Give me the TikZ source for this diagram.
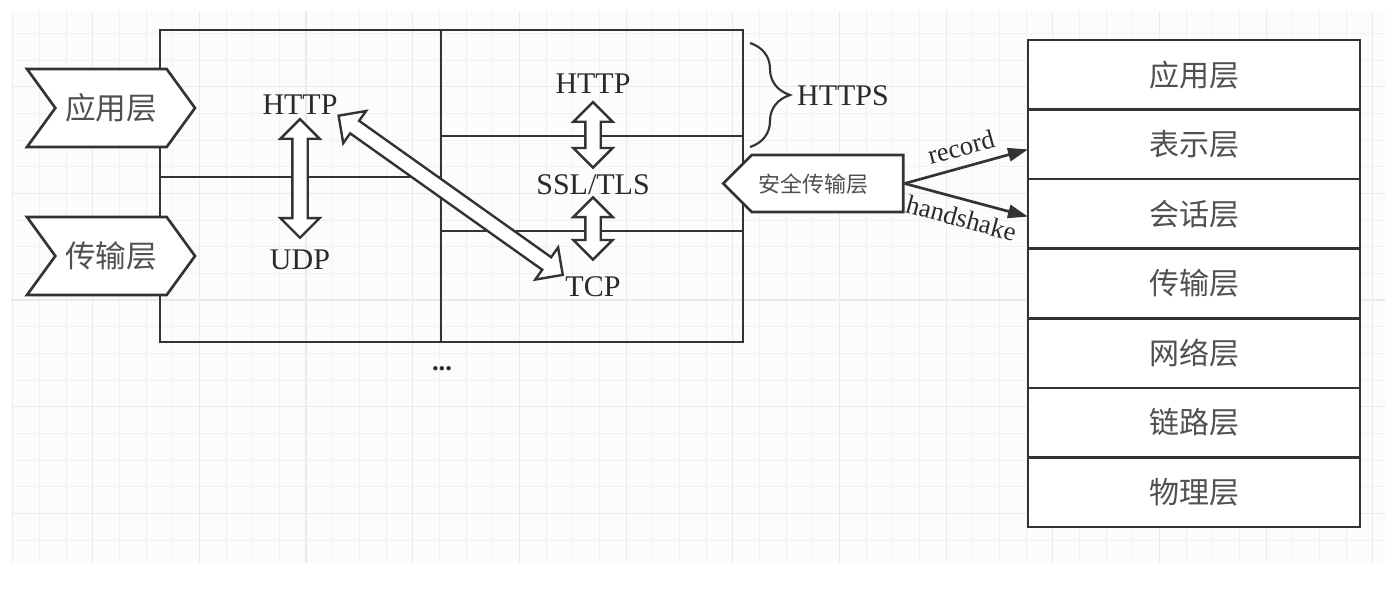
\documentclass[tikz,border=0pt]{standalone}
\usepackage{fontspec}
\setmainfont{Liberation Serif}
\newfontfamily\cjk{Noto Sans CJK SC}
\usetikzlibrary{shapes, shapes.arrows, shapes.symbols, arrows.meta, calc, positioning}
\usetikzlibrary{decorations.pathreplacing}
\definecolor{linegray}{HTML}{333333}
\definecolor{textgray}{HTML}{2A2A2A}
\definecolor{cjkgray}{HTML}{505050}
\definecolor{gridbg}{HTML}{FCFCFC}
\definecolor{gridminor}{HTML}{F1F1F1}
\definecolor{gridmajor}{HTML}{EAEAEA}
\newcommand{\pxu}{0.75pt}

\tikzset{
  cell/.style={rectangle, draw=linegray, line width=2pt, inner sep=0pt, outer sep=0pt},
  lbl/.style={inner sep=0pt, text=textgray, font=\fontsize{22.5}{26}\selectfont},
  cjklbl/.style={text=cjkgray, font=\cjk\fontsize{22.5}{24}\selectfont},
  layer/.style={cell, fill=white, minimum width=332*\pxu, minimum height=69.57*\pxu, cjklbl},
  chevron/.style={signal, draw=linegray, fill=white, line width=2pt, signal from=west, signal to=east,
    signal pointer angle=108, minimum width=168*\pxu, minimum height=78*\pxu, inner sep=0pt,
    text=cjkgray, font=\cjk\fontsize{23}{24}\selectfont},
  dblarrow/.style={double arrow, draw=linegray, fill=white, line width=1.8pt, inner xsep=0pt,
    inner ysep=4.875pt, double arrow head extend=9pt, double arrow tip angle=90},
  flow/.style={draw=linegray, line width=2pt, -{Triangle[length=15pt, width=10pt]}},
}

% hollow double arrow between two points, with gaps (in px) at both ends
\newcommand{\blockarrow}[4]{%
  \path let \p1=(#1), \p2=(#2),
    \n1={atan2(\y2-\y1,\x2-\x1)},
    \n2={veclen(\x2-\x1,\y2-\y1)}
  in node[dblarrow, rotate=\n1, minimum height={\n2-(#3+#4)*\pxu}]
    at ($(\p1)!{#3*\pxu+0.5*(\n2-(#3+#4)*\pxu)}!(\p2)$) {};}

\begin{document}
\begin{tikzpicture}[x=0.75pt, y=-0.75pt]
    \useasboundingbox (0,0) rectangle (1395,607);

    % background grid
    \fill[gridbg] (11,11) rectangle (1385,563);
    \foreach \k in {0,...,51} {
        \pgfmathsetmacro{\gx}{12.7+26.67*\k}
        \pgfmathtruncatemacro{\mj}{mod(\k,4)}
        \ifnum\mj=3 \draw[gridmajor, line width=0.9pt] (\gx,11) -- (\gx,563);
        \else \draw[gridminor, line width=0.8pt] (\gx,11) -- (\gx,563); \fi
    }
    \foreach \k in {1,...,20} {
        \pgfmathsetmacro{\gy}{6.7+26.67*\k}
        \pgfmathtruncatemacro{\mj}{mod(\k,4)}
        \ifnum\mj=3 \draw[gridmajor, line width=0.9pt] (11,\gy) -- (1385,\gy);
        \else \draw[gridminor, line width=0.8pt] (11,\gy) -- (1385,\gy); \fi
    }

    % protocol table
    \node (cellA) [cell, minimum width=281*\pxu, minimum height=147*\pxu] at (300.5,103.5) {};
    \node (cellB) [cell, minimum width=281*\pxu, minimum height=165*\pxu] at (300.5,259.5) {};
    \node (cellC) [cell, minimum width=302*\pxu, minimum height=106*\pxu] at (592,83) {};
    \node (cellD) [cell, minimum width=302*\pxu, minimum height=95*\pxu] at (592,183.5) {};
    \node (cellE) [cell, minimum width=302*\pxu, minimum height=111*\pxu] at (592,286.5) {};

    \node (httpL) [lbl] at (300,105) {HTTP};
    \node (udp)   [lbl] at (300,260) {UDP};
    \node (httpR) [lbl] at (593,84)  {HTTP};
    \node (ssl)   [lbl] at (593,185) {SSL/TLS};
    \node (tcp)   [lbl] at (593,287) {TCP};
    \node (dots)  [lbl, font=\bfseries\fontsize{20}{22}\selectfont] at (442,369) {...};

    % layer tags on the left
    \node (tagApp)   [chevron] at (111,108) {应用层};
    \node (tagTrans) [chevron] at (111,256) {传输层};

    % HTTPS brace
    \draw[linegray, line width=1.6pt, decorate, decoration={brace, amplitude=30pt}] (750,43) -- (750,147);
    \node (https) [lbl] at (843,96) {HTTPS};

    % OSI stack
    \node (r1) [layer] at (1194,74.8) {应用层};
    \node (r2) [layer, below=0pt of r1] {表示层};
    \node (r3) [layer, below=0pt of r2] {会话层};
    \node (r4) [layer, below=0pt of r3] {传输层};
    \node (r5) [layer, below=0pt of r4] {网络层};
    \node (r6) [layer, below=0pt of r5] {链路层};
    \node (r7) [layer, below=0pt of r6] {物理层};

    % secure transport layer
    \node (sec) [signal, signal to=west, signal pointer angle=90, draw=linegray, fill=white,
        line width=2pt, minimum width=180*\pxu, minimum height=57*\pxu, inner sep=0pt] at (827.5,183.5) {};
    \node (secText) [text=cjkgray, font=\cjk\fontsize{16.5}{18}\selectfont, inner sep=0pt] at (813,184) {安全传输层};

    \draw[flow] (sec.east) -- ([yshift=-3.75pt]r2.west)
        node[midway, above=7pt, sloped, lbl, font=\fontsize{20}{22}\selectfont] {record};
    \draw[flow] (sec.east) -- ([yshift=-2pt]r3.west)
        node[midway, below=6pt, sloped, lbl, font=\fontsize{20}{22}\selectfont] {handshake};

    % block arrows
    \blockarrow{httpL.south}{udp.north}{4}{12}
    \blockarrow{httpR.south}{ssl.north}{8}{7}
    \blockarrow{ssl.south}{tcp.north}{2}{17}
    \blockarrow{httpL.south east}{tcp.north west}{1}{3}
\end{tikzpicture}
\end{document}
